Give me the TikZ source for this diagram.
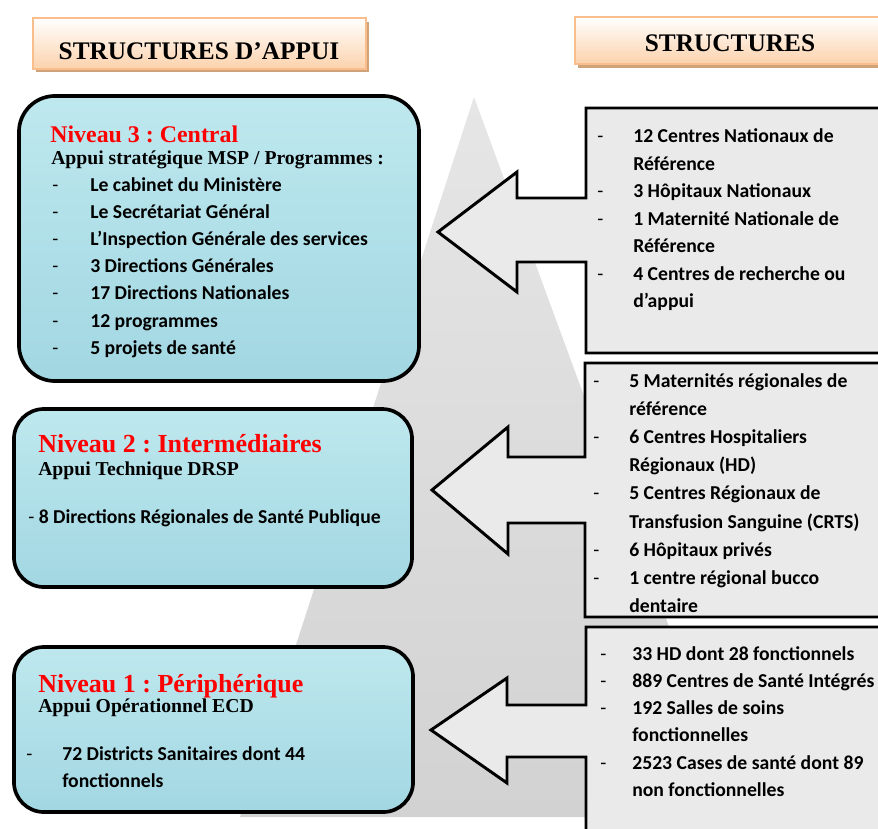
\documentclass[tikz,border=0pt]{standalone}
\usepackage{fontspec}
\setmainfont{Liberation Serif}
\newfontfamily\carlito{Carlito}
\frenchspacing
\definecolor{peach}{RGB}{252,210,172}
\definecolor{peachline}{RGB}{250,190,140}
\definecolor{peachshadow}{RGB}{208,162,122}
\definecolor{aqualight}{RGB}{190,232,238}
\definecolor{aquadark}{RGB}{162,215,226}
\definecolor{marbletop}{RGB}{230,230,230}
\definecolor{marblebottom}{RGB}{210,210,210}
\definecolor{paper}{RGB}{234,234,234}

\begin{document}
\begin{tikzpicture}[x=0.025cm,y=-0.025cm,
    hdrbox/.style={draw=peachline,line width=1pt,top color=white,bottom color=peach},
    hdrtext/.style={anchor=base,inner sep=0,font=\bfseries\fontsize{18}{20}\selectfont},
    levelbox/.style={draw,line width=2.6pt,top color=aqualight,bottom color=aquadark},
    levtitle/.style={anchor=base west,inner sep=0,text=red,font=\bfseries\fontsize{18.5}{20}\selectfont},
    subtitle/.style={anchor=base west,inner sep=0,font=\bfseries\fontsize{14}{16}\selectfont},
    itemtext/.style={anchor=base west,inner sep=0,font=\carlito\bfseries\fontsize{14}{16}\selectfont},
    itemdash/.style={anchor=base west,inner sep=0,font=\carlito\fontsize{14}{16}\selectfont},
    callout/.style={draw,line width=2.1pt,fill=paper,line join=miter}]
  \useasboundingbox (0,0) rectangle (878,828);
  \clip (0,0) rectangle (878,828);

  \shade[top color=marbletop,bottom color=marblebottom] (474,97) -- (739,817) -- (240,817) -- cycle;

  \fill[peachshadow] (36,22) rectangle (369,72);
  \node[hdrbox,minimum width=8.325cm,minimum height=1.275cm] (appui) at (199.5,43.5) {};
  \node[hdrtext] (appuitxt) at (199,59) {STRUCTURES D’APPUI};
  \fill[peachshadow] (578,21) rectangle (883,68);
  \node[hdrbox,minimum width=7.625cm,minimum height=1.175cm] (struct) at (727.5,40.5) {};
  \node[hdrtext] (structtxt) at (730,52) {STRUCTURES};

  \node[levelbox,rounded corners=0.9cm,minimum width=10cm,minimum height=7.125cm] (niv3) at (219,238.5) {};
  \node[levelbox,rounded corners=0.75cm,minimum width=9.95cm,minimum height=4.45cm] (niv2) at (213,498) {};
  \node[levelbox,rounded corners=0.75cm,minimum width=9.975cm,minimum height=4.125cm] (niv1) at (213.5,729.5) {};

  \node[levtitle,font=\bfseries\fontsize{17}{19}\selectfont] (titre3) at (50,142) {Niveau 3 : Central};
  \node[subtitle] (appui3) at (51,164) {Appui stratégique MSP / Programmes :};
  \foreach \t [count=\i from 0] in {Le cabinet du Ministère,Le Secrétariat Général,L’Inspection Générale des services,3 Directions Générales,17 Directions Nationales,12 programmes,5 projets de santé}{
    \node[itemdash] (d3-\i) at (52,191+27.2*\i) {-};
    \node[itemtext] (t3-\i) at (90,191+27.2*\i) {\t};
  }

  \node[levtitle] (titre2) at (38,452) {Niveau 2 : Intermédiaires};
  \node[subtitle] (appui2) at (38,475) {Appui Technique DRSP};
  \node[itemtext] (t2-0) at (28,523) {{\mdseries -} 8 Directions Régionales de Santé Publique};

  \node[levtitle] (titre1) at (38,692) {Niveau 1 : Périphérique};
  \node[subtitle] (appui1) at (38,712) {Appui Opérationnel ECD};
  \node[itemdash] (d1-0) at (26,760) {-};
  \node[itemtext] (t1-0) at (62,760) {72 Districts Sanitaires dont 44};
  \node[itemtext] (t1-1) at (62,787) {fonctionnels};

  \draw[callout] (586,108) -- (885,108) -- (885,353) -- (586,353) -- (586,262) -- (517,262)
    -- (517,292) -- (438,232) -- (517,172) -- (517,198) -- (586,198) -- cycle;
  \draw[callout] (585,363) -- (885,363) -- (885,617) -- (585,617) -- (585,523) -- (508,523)
    -- (508,554) -- (432,490) -- (508,427) -- (508,457) -- (585,457) -- cycle;
  \draw[callout] (586,627) -- (885,627) -- (885,860) -- (586,860) -- (586,757) -- (507,757)
    -- (507,783) -- (431,730) -- (507,678) -- (507,705) -- (586,705) -- cycle;

  \foreach \d/\t [count=\i from 0] in {-/12 Centres Nationaux de,/Référence,-/3 Hôpitaux Nationaux,-/1 Maternité Nationale de,/Référence,-/4 Centres de recherche ou,/d’appui}{
    \node[itemdash] (dn-\i) at (597,142.5+27.5*\i) {\d};
    \node[itemtext] (tn-\i) at (633,142.5+27.5*\i) {\t};
  }
  \foreach \d/\t [count=\i from 0] in {-/5 Maternités régionales de,/référence,-/6 Centres Hospitaliers,/Régionaux (HD),-/5 Centres Régionaux de,/Transfusion Sanguine (CRTS),-/6 Hôpitaux privés,-/1 centre régional bucco,/dentaire}{
    \node[itemdash] (dr-\i) at (593,387+28.2*\i) {\d};
    \node[itemtext] (tr-\i) at (629,387+28.2*\i) {\t};
  }
  \foreach \d/\t [count=\i from 0] in {-/33 HD dont 28 fonctionnels,-/889 Centres de Santé Intégrés,-/192 Salles de soins,/fonctionnelles,-/2523 Cases de santé dont 89,/non fonctionnelles}{
    \node[itemdash] (dp-\i) at (600,660+27.3*\i) {\d};
    \node[itemtext] (tp-\i) at (632,660+27.3*\i) {\t};
  }
\end{tikzpicture}
\end{document}
